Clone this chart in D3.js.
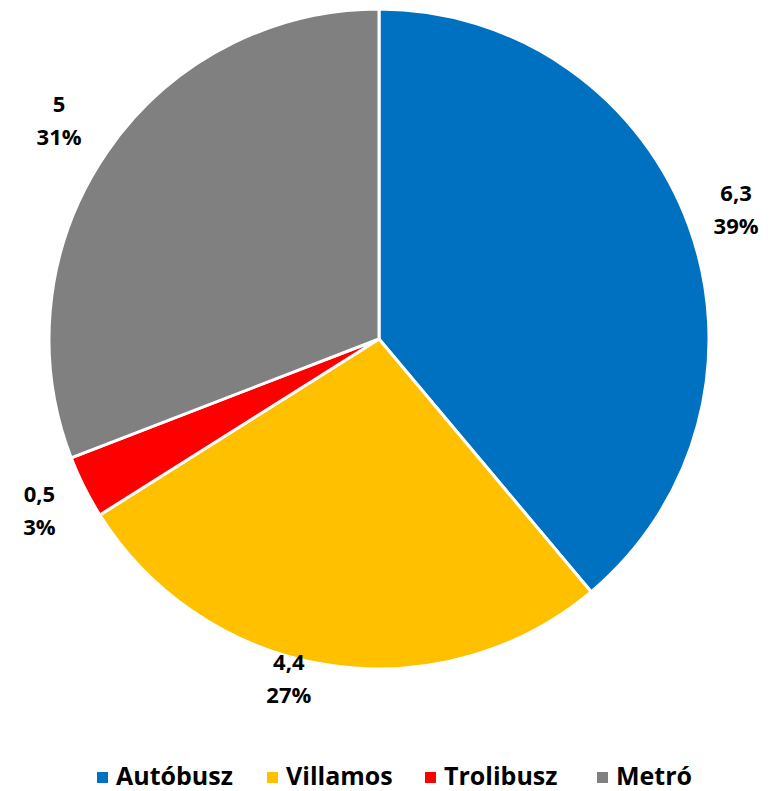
<!DOCTYPE html>
<html><head><meta charset="utf-8">
<script src="https://cdn.jsdelivr.net/npm/d3@7"></script>
<style>body{margin:0;background:#fff}svg{display:block}</style>
</head><body>
<svg id="c" width="784" height="791"></svg>
<script>
const categories = ["Autóbusz", "Villamos", "Trolibusz", "Metró"];
const values = [6.3, 4.4, 0.5, 5];
const valueLabels = ["6,3", "4,4", "0,5", "5"];
const colors = ["#0070C0", "#FFC000", "#FF0000", "#808080"];

const svg = d3.select("#c");
const cx = 379, cy = 339, R = 330;
const font = "'Open Sans', 'Noto Sans', sans-serif";
const total = d3.sum(values);
const data = categories.map((c, i) => ({cat: c, v: values[i], lab: valueLabels[i], col: colors[i]}));
const pie = d3.pie().value(d => d.v).sort(null);
const arcs = pie(data);
const arc = d3.arc().innerRadius(0).outerRadius(R);
const g = svg.append("g").attr("transform", `translate(${cx},${cy})`);
g.selectAll("path").data(arcs).join("path")
  .attr("d", arc).attr("fill", d => d.data.col)
  .attr("stroke", "#fff").attr("stroke-width", 3).attr("stroke-linejoin", "round");

// label placement (radius, angle nudge in degrees)
const labelLayout = [{r: 380, da: 0}, {r: 351, da: 6}, {r: 380, da: 0}, {r: 388, da: 0}];
arcs.forEach((a, i) => {
  const ang = (a.startAngle + a.endAngle) / 2 + labelLayout[i].da * Math.PI / 180;
  const r = labelLayout[i].r;
  const x = Math.sin(ang) * r, y = -Math.cos(ang) * r;
  const t = g.append("text").attr("text-anchor", "middle")
    .attr("font-family", font).attr("font-weight", 700).attr("font-size", 22).attr("fill", "#000");
  t.append("tspan").attr("x", x).attr("y", y - 8).text(a.data.lab);
  t.append("tspan").attr("x", x).attr("y", y + 25).text(d3.format(".0%")(a.data.v / total));
});

// legend
const legX = [97, 267, 425, 597];
const lg = svg.append("g");
data.forEach((d, i) => {
  lg.append("rect").attr("x", legX[i]).attr("y", 772).attr("width", 11).attr("height", 11).attr("fill", d.col);
  lg.append("text").attr("x", legX[i] + 19).attr("y", 785)
    .attr("font-family", font).attr("font-weight", 700).attr("font-size", 25).attr("fill", "#000").text(d.cat);
});
</script>
</body></html>
